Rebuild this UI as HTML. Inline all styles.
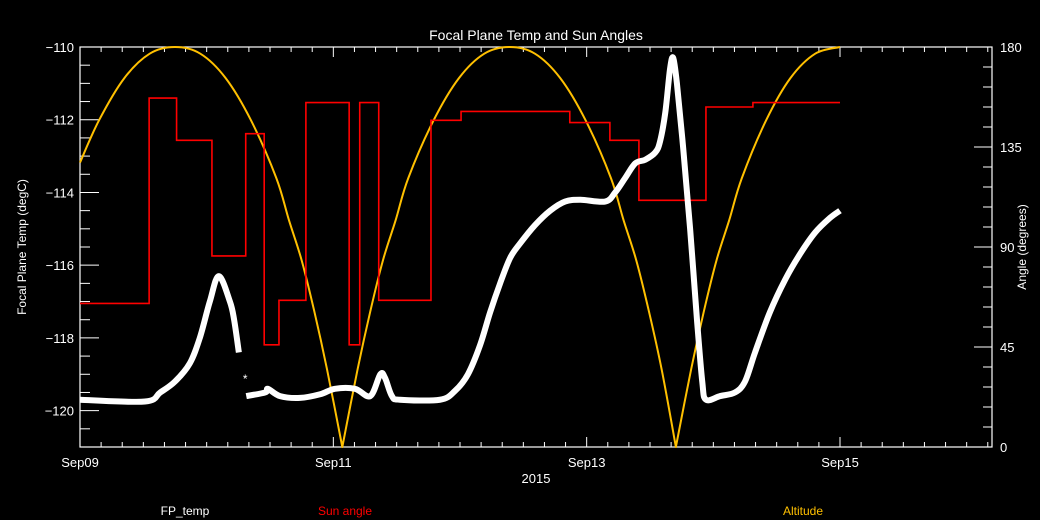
<!DOCTYPE html>
<html><head><meta charset="utf-8"><style>
html,body{margin:0;padding:0;background:#000;}
svg{display:block;font-family:"Liberation Sans",sans-serif;}
</style></head><body>
<svg id="chart" width="1040" height="520" viewBox="0 0 1040 520" xmlns="http://www.w3.org/2000/svg">
<rect width="1040" height="520" fill="#000"/>
<text x="536" y="40" fill="#fff" font-size="14" text-anchor="middle">Focal Plane Temp and Sun Angles</text>
<text transform="translate(26,247) rotate(-90)" fill="#fff" font-size="12" text-anchor="middle">Focal Plane Temp (degC)</text>
<text transform="translate(1026,247) rotate(-90)" fill="#fff" font-size="12" text-anchor="middle">Angle (degrees)</text>
<text x="536" y="483" fill="#fff" font-size="13" text-anchor="middle">2015</text>
<text x="185" y="515" fill="#fff" font-size="12" text-anchor="middle">FP_temp</text>
<text x="345" y="515" fill="#ff0000" font-size="12" text-anchor="middle">Sun angle</text>
<text x="803" y="515" fill="#ffc000" font-size="12" text-anchor="middle">Altitude</text>
<g id="plot"></g>
</svg>
<script>
const xTickLabels = ["Sep09","Sep11","Sep13","Sep15"];
const xTickHours = [0,48,96,144];
const yTicks = [-110,-112,-114,-116,-118,-120];
const y2Ticks = [0,45,90,135,180];
const fpHours = [0,12.3,15.2,18.0,20.8,22.7,24.6,26.3,28.4,29.2,30.1];
const fpTemp = [-119.7,-119.75,-119.5,-119.2,-118.7,-118.0,-117.0,-116.3,-117.0,-117.5,-118.4];
const fpHours2 = [31.3,31.5,35.1,35.6,37.9,41.7,45.5,48.3,52.1,55.0,56.9,57.8,59.1,60.6,68.2,71.1,73.5,75.8,77.7,79.6,81.5,83.4,86.2,89.1,91.9,94.8,99.5,101.4,103.3,105.2,107.1,109.0,109.9,110.9,111.8,112.4,113.1,114.3,115.6,116.9,117.9,118.6,121.3,124.1,126.0,127.9,130.7,133.6,136.4,139.3,142.1,144.0];
const fpTemp2 = [-119.1,-119.6,-119.5,-119.4,-119.6,-119.65,-119.55,-119.4,-119.4,-119.6,-119.0,-119.1,-119.6,-119.7,-119.7,-119.45,-119.0,-118.2,-117.3,-116.5,-115.8,-115.4,-114.9,-114.5,-114.25,-114.2,-114.25,-114.0,-113.6,-113.2,-113.1,-112.9,-112.6,-111.8,-110.6,-110.3,-111.0,-112.8,-115.0,-117.5,-119.2,-119.7,-119.6,-119.5,-119.2,-118.4,-117.3,-116.4,-115.7,-115.1,-114.7,-114.5];
const sunStart = [0,13.1,18.3,25.0,31.4,34.9,37.7,42.8,51.0,53.0,56.6,66.5,72.2,92.8,100.4,105.9,118.6,127.5];
const sunAngle = [64.6,157,138,86,141,46,66,155,46,155,66,147,151,146,138,111,153,155];
const sunEnd = 144;
const altHours = [0,3.6,8.4,13.2,18,22.8,27.6,32.4,37.2,39.6,42,44.4,46.8,49.7,52.6,55,57.4,59.8,62.2,67,71.8,76.6,81.4,86.2,91,95.8,100.6,103,105.4,107.8,110.2,112.9,115.8,118.2,120.6,123,125.4,130,134.6,139.3,144];
const altAngle = [128,147,166,177,180,177,166,147,121,102,84,61,35,0,35,61,84,102,121,147,166,177,180,177,166,147,121,102,84,61,35,0,35,61,84,102,121,147,166,177,180];

const L=80,R=992,T=47,B=447,XMAX=172.8;
const X=h=>L+h/XMAX*(R-L);
const Y=t=>T+(-110-t)/11*(B-T);
const Y2=a=>B-a/180*(B-T);
const NS="http://www.w3.org/2000/svg";
const g=document.getElementById('plot');
function mk(tag,attrs,parent){const e=document.createElementNS(NS,tag);for(const k in attrs)e.setAttribute(k,attrs[k]);(parent||g).appendChild(e);return e;}
function smoothPath(pts){
  let d='M'+pts[0][0]+','+pts[0][1];
  for(let i=0;i<pts.length-1;i++){
    const p0=pts[Math.max(0,i-1)],p1=pts[i],p2=pts[i+1],p3=pts[Math.min(pts.length-1,i+2)];
    const sharp1=(i>0&&p1[1]>=B-0.5), sharp2=(p2[1]>=B-0.5);
    const c1=sharp1?[p1[0],p1[1]]:[p1[0]+(p2[0]-p0[0])/6,p1[1]+(p2[1]-p0[1])/6];
    const c2=sharp2?[p2[0],p2[1]]:[p2[0]-(p3[0]-p1[0])/6,p2[1]-(p3[1]-p1[1])/6];
    d+=' C'+c1[0]+','+c1[1]+' '+c2[0]+','+c2[1]+' '+p2[0]+','+p2[1];
  }
  return d;
}

const frame=mk('rect',{x:L,y:T,width:R-L,height:B-T,fill:'none',stroke:'#fff','stroke-width':1.2});



for(let h=0;h<=XMAX+0.01;h+=4){
  const x=X(h);const len=(h%48===0)?10:5;
  const t1=mk('line',{x1:x,y1:B,x2:x,y2:B-len,stroke:'#fff'});
  
  
  const t2=mk('line',{x1:x,y1:T,x2:x,y2:T+len,stroke:'#fff'});
  
  
}
xTickLabels.forEach((s,i)=>{
  const t=mk('text',{x:X(xTickHours[i]),y:467,fill:'#fff','font-size':13,'text-anchor':'middle'});
  t.textContent=s;
  
  
});
for(let v=-110;v>=-121;v-=0.5){
  const y=Y(v);const major=Math.abs(v%2)<0.01;
  const t=mk('line',{x1:L,y1:y,x2:L+(major?19:10),y2:y,stroke:'#fff'});
  
  
}
yTicks.forEach(v=>{
  const t=mk('text',{x:L-6,y:Y(v)+5,fill:'#fff','font-size':13,'text-anchor':'end'});
  t.textContent=String(v).replace('-','\u2212');
  
  
});
for(let a=0;a<=180;a+=9){
  const y=Y2(a);const major=a%45===0;
  const t=mk('line',{x1:R,y1:y,x2:R-(major?18:9),y2:y,stroke:'#fff'});
  
  
}
y2Ticks.forEach(a=>{
  const t=mk('text',{x:R+8,y:Y2(a)+5,fill:'#fff','font-size':13,'text-anchor':'start'});
  t.textContent=a;
  
  
});

const alt=mk('path',{d:smoothPath(altHours.map((h,i)=>[X(h),Y2(altAngle[i])])),fill:'none',stroke:'#ffc000','stroke-width':2,'stroke-linejoin':'round'});



let sp=[];
sunStart.forEach((h,i)=>{const e=i<sunStart.length-1?sunStart[i+1]:sunEnd;sp.push(X(h)+','+Y2(sunAngle[i]));sp.push(X(e)+','+Y2(sunAngle[i]));});
const sun=mk('polyline',{points:sp.join(' '),fill:'none',stroke:'#ff0000','stroke-width':1.6});



const fp1=mk('path',{d:smoothPath(fpHours.map((h,i)=>[X(h),Y(fpTemp[i])])),fill:'none',stroke:'#fff','stroke-width':6,'stroke-linejoin':'round'});


const fp2=mk('path',{d:smoothPath(fpHours2.slice(1).map((h,i)=>[X(h),Y(fpTemp2[i+1])])),fill:'none',stroke:'#fff','stroke-width':6,'stroke-linejoin':'round'});


const star=mk('text',{x:X(fpHours2[0]),y:Y(fpTemp2[0])+5,fill:'#fff','font-size':12,'text-anchor':'middle'});
star.textContent='*';


</script>
</body></html>
